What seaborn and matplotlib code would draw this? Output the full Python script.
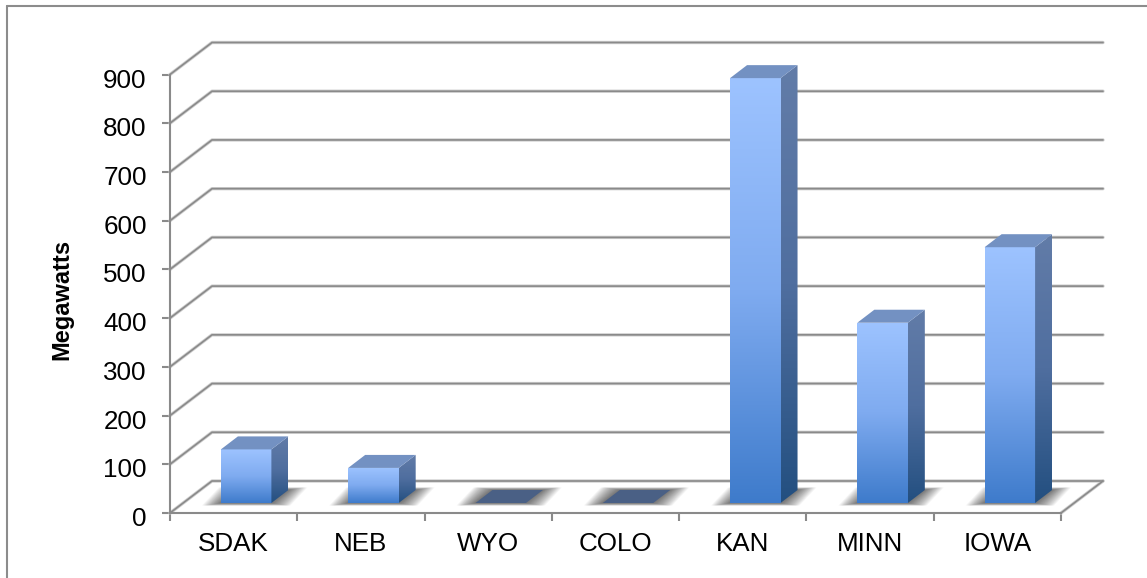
import pandas as pd
import numpy as np
import matplotlib.pyplot as plt
from matplotlib.colors import LinearSegmentedColormap
from matplotlib.lines import Line2D
from matplotlib.patches import Polygon
from matplotlib.transforms import ScaledTranslation
import seaborn as sns

states = ['SDAK', 'NEB', 'WYO', 'COLO', 'KAN', 'MINN', 'IOWA']
megawatts = [110, 72, 0, 0, 872, 370, 525]
y_ticks = [0, 100, 200, 300, 400, 500, 600, 700, 800, 900]

W, H = 1147, 578
LEFT, RIGHT, BOTTOM, TOP = 170, 1061, 513, 74.5
PX_X = (RIGHT - LEFT) / 7
PX_Y = (BOTTOM - TOP) / 900
GRID = '#8A8A8A'

sns.set_style('white')
plt.rcParams['font.family'] = ['Liberation Sans', 'DejaVu Sans']

fig = plt.figure(figsize=(W / 100, H / 100), dpi=100)
ax = fig.add_axes([LEFT / W, 1 - BOTTOM / H, (RIGHT - LEFT) / W, (BOTTOM - TOP) / H])
ax.patch.set_alpha(0)

df = pd.DataFrame({'state': states, 'mw': megawatts})
sns.barplot(data=df, x='state', y='mw', width=50.5 / PX_X, color='#6C9DE0', linewidth=0, ax=ax, zorder=5)

ax.set_xlim(-0.5, 6.5)
ax.set_ylim(0, 900)

# walls and floor of the fake 3d box
wall_x = 42 / PX_X
wall_y = 32 / PX_Y
for t in y_ticks:
    xs = [-0.5, -0.5 + wall_x, 6.5 + wall_x]
    ys = [t, t + wall_y, t + wall_y]
    ax.plot(xs, ys, color='#CFCFCF', lw=2.4, clip_on=False, zorder=1)
    ax.plot(xs, ys, color=GRID, lw=1.2, clip_on=False, zorder=1.1)
ax.plot([6.5, 6.5 + wall_x], [0, wall_y], color='#CFCFCF', lw=2.4, clip_on=False, zorder=1)
ax.plot([6.5, 6.5 + wall_x], [0, wall_y], color=GRID, lw=1.2, clip_on=False, zorder=1.1)

front_cmap = LinearSegmentedColormap.from_list('front', ['#9DC3FF', '#7FABF0', '#3E7BCB'])
side_cmap = LinearSegmentedColormap.from_list('side', ['#627CA8', '#4F6E9F', '#234F80'])
grad = np.linspace(0, 1, 256).reshape(-1, 1)

shift_x = 12.5 / PX_X
shift_y = 10 / PX_Y
side_x = 17 / PX_X
side_y = 13 / PX_Y

for bar in ax.patches:
    x0 = bar.get_x() + shift_x
    y0 = shift_y
    w = bar.get_width()
    h = bar.get_height()
    x1 = x0 + w
    y1 = y0 + h

    # soft floor shadow
    for e in range(19, 0, -1):
        ex = e / PX_X
        ey = min(e * 0.16, 2.5) / PX_Y
        floor = [(x0 - ex, y0 - ey), (x1 + ex, y0 - ey),
                 (x1 + side_x + ex, y0 + side_y + ey), (x0 + side_x - ex, y0 + side_y + ey)]
        ax.add_patch(Polygon(floor, fc='black', ec='none', alpha=0.035, clip_on=False, zorder=2))

    bar.set_x(x0)
    bar.set_y(y0)
    bar.set_clip_on(False)

    if h == 0:
        top = [(x0, y0), (x1, y0), (x1 + side_x, y0 + side_y), (x0 + side_x, y0 + side_y)]
        ax.add_patch(Polygon(top, fc='#4A6085', ec='none', clip_on=False, zorder=6))
        continue

    im = ax.imshow(grad, cmap=front_cmap, extent=(x0, x1, y0, y1), aspect='auto', zorder=6)
    im.set_clip_box(fig.bbox)
    im.set_clip_path(bar)

    side = Polygon([(x1, y0), (x1 + side_x, y0 + side_y), (x1 + side_x, y1 + side_y), (x1, y1)],
                   fc='none', ec='none', clip_on=False, zorder=6)
    ax.add_patch(side)
    im2 = ax.imshow(grad, cmap=side_cmap, extent=(x1, x1 + side_x, y0, y1 + side_y),
                    aspect='auto', zorder=6)
    im2.set_clip_box(fig.bbox)
    im2.set_clip_path(side)

    top = [(x0, y1), (x1, y1), (x1 + side_x, y1 + side_y), (x0 + side_x, y1 + side_y)]
    ax.add_patch(Polygon(top, fc='#7391C2', ec='none', clip_on=False, zorder=6))

ax.set_xlim(-0.5, 6.5)
ax.set_ylim(0, 900)

sns.despine(ax=ax)
for s in ['left', 'bottom']:
    ax.spines[s].set_color(GRID)
    ax.spines[s].set_linewidth(1.5)

ax.set_yticks(y_ticks)
ax.set_xticks(range(len(states)))
ax.set_xticklabels(states)
ax.set_xticks(np.arange(-0.5, 7, 1), minor=True)
ax.tick_params(axis='x', which='major', length=0, pad=14, labelsize=18.7, labelcolor='black')
ax.tick_params(axis='x', which='minor', length=5.8, width=1.5, color=GRID, bottom=True)
ax.tick_params(axis='y', which='major', length=5.8, width=1.5, color=GRID, left=True,
               pad=11, labelsize=18.7, labelcolor='black')
ax.set_xlabel('')
ax.set_ylabel('')
nudge = ScaledTranslation(0, -3.5 / 100, fig.dpi_scale_trans)
for lbl in ax.get_yticklabels():
    lbl.set_transform(lbl.get_transform() + nudge)
fig.text(62 / W, 1 - 299 / H, 'Megawatts', rotation=90, ha='center', va='center',
         fontsize=17, fontweight='bold', color='black')

# chart frame
fig.add_artist(Line2D([7 / W, 7 / W], [0, 1 - 6 / H], color='#8C8C8C', lw=1.5))
fig.add_artist(Line2D([7 / W, 1], [1 - 6 / H, 1 - 6 / H], color='#8C8C8C', lw=1.5))

fig.savefig('out.png', dpi=100)
